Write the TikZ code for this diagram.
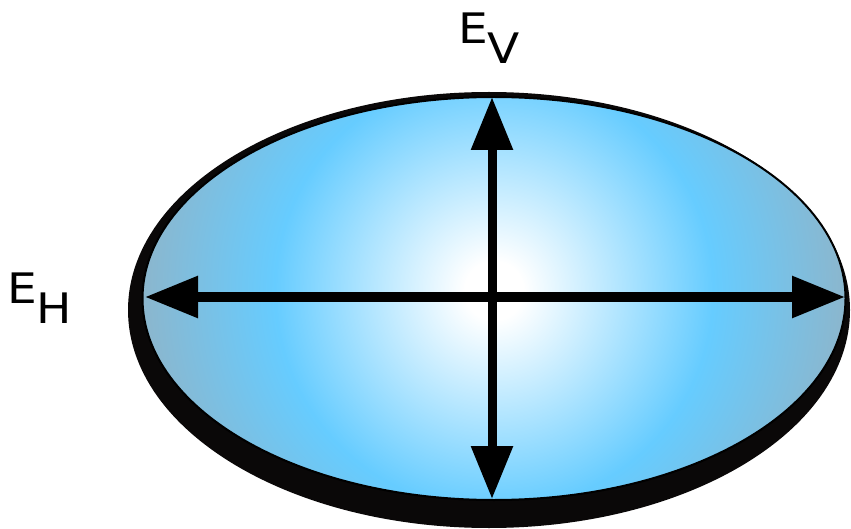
\documentclass[tikz,border=0pt]{standalone}
\usepackage{fontspec}
\setmainfont{DejaVu Sans}
\newfontfamily\lblfont[FakeStretch=1.12]{DejaVu Sans}
\usetikzlibrary{arrows.meta,shapes.geometric}
\definecolor{vivid}{RGB}{102,204,255}
\definecolor{edgeblue}{RGB}{143,180,200}
\definecolor{shadowblack}{RGB}{10,8,8}
\pgfdeclareradialshading{eblue}{\pgfpoint{0bp}{0bp}}{color(0bp)=(white); color(2bp)=(white); color(15bp)=(vivid); color(25bp)=(edgeblue); color(50bp)=(edgeblue)}
\tikzset{
  dbl/.style={line width=9pt, {Triangle[length=53pt,width=40pt]}-{Triangle[length=53pt,width=40pt]}},
  lbl/.style={inner sep=0pt, anchor=base west, font=\lblfont\fontsize{42}{50}\selectfont}
}
\begin{document}
\begin{tikzpicture}[x=1pt,y=-1pt]
\useasboundingbox (0,0) rectangle (851,529);
\node[ellipse, fill=shadowblack, inner sep=0pt, minimum width=722pt, minimum height=436pt] (shadow) at (489,310) {};
\node[ellipse, draw=black, line width=2pt, inner sep=0pt, minimum width=703pt, minimum height=403pt,
  path picture={\shade[shading=eblue] ([yshift=8pt]path picture bounding box.center) circle (365pt);}] (drop) at (494,298.5) {};
\coordinate (L) at (145,297);
\coordinate (R) at (845,297);
\coordinate (T) at (492,97);
\coordinate (B) at (492,499);
\draw[dbl] (L) -- (R);
\draw[dbl] (T) -- (B);
\node[lbl] (ev) at (458,44) {E\raisebox{-20pt}{V}};
\node[lbl] (eh) at (7,304) {E\raisebox{-20pt}{H}};
\end{tikzpicture}
\end{document}
